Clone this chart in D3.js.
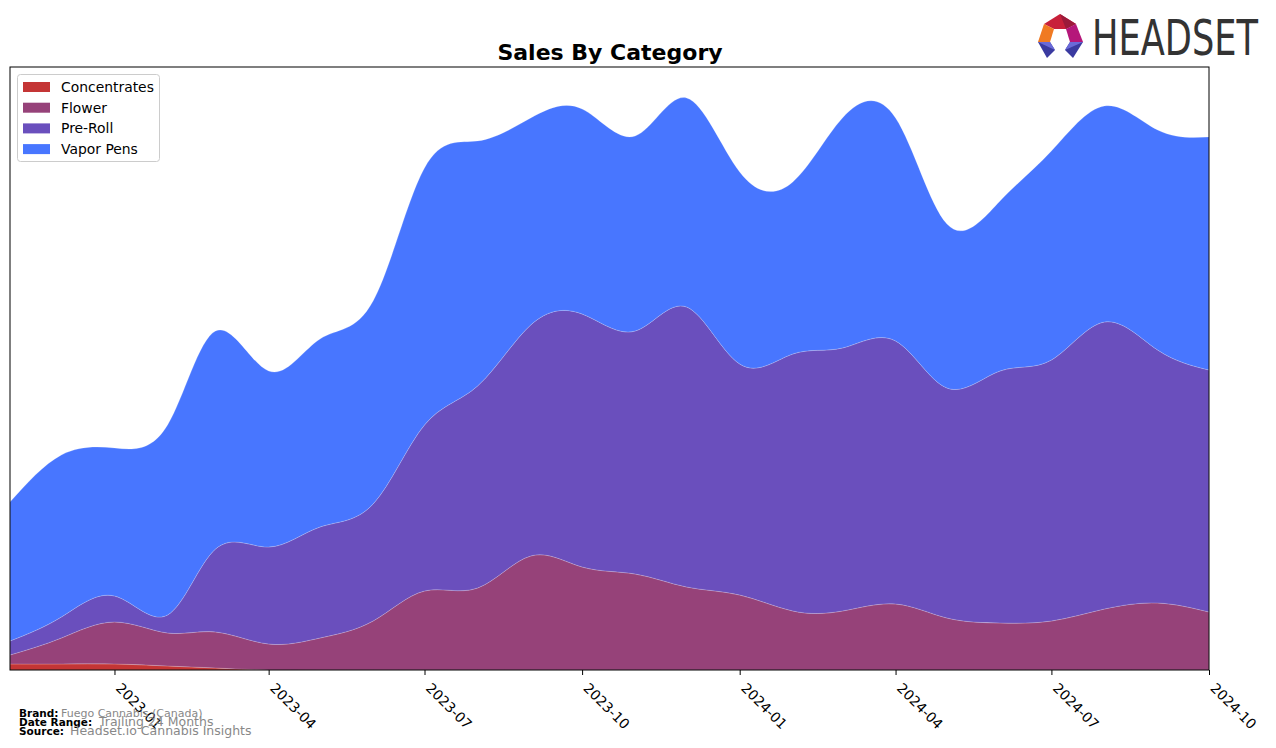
<!DOCTYPE html>
<html>
<head>
<meta charset="utf-8">
<script src="https://cdn.jsdelivr.net/npm/d3@7"></script>
<style>
  html, body { margin: 0; padding: 0; background: #fff; }
  svg { display: block; font-family: "DejaVu Sans", sans-serif; }
</style>
</head>
<body>
<svg id="chart" width="1276" height="748"></svg>
<script>
// ---- data (monthly, values in arbitrary sales units) ----
const months = ["2022-11","2022-12","2023-01","2023-02","2023-03","2023-04","2023-05","2023-06",
  "2023-07","2023-08","2023-09","2023-10","2023-11","2023-12","2024-01","2024-02","2024-03",
  "2024-04","2024-05","2024-06","2024-07","2024-08","2024-09","2024-10"];
const categories = ["Concentrates","Flower","Pre-Roll","Vapor Pens"];
const concentrates = [600,600,600,400,200,0,0,0,0,0,0,0,0,0,0,0,0,0,0,0,0,0,0,0];
const flower = [900,2600,4200,3300,3600,2600,3200,4900,7900,8200,11400,10300,9600,8300,7500,5900,5900,6600,5200,4700,4900,6100,6700,5800];
const preRoll = [1400,2100,2600,1800,8300,9700,11100,11700,16600,20200,23100,25300,24300,28000,23100,25700,26300,26300,23000,25200,26100,28700,25300,24200];
const vaporPens = [13900,16200,14800,19000,21800,17600,18800,20300,25700,24500,20700,20500,19500,20900,19200,17200,23000,22300,16400,17000,20900,21600,22000,23300];
const xTickLabels = ["2023-01","2023-04","2023-07","2023-10","2024-01","2024-04","2024-07","2024-10"];
const yMax = 60300;

const colors = {"Concentrates":"#c43535","Flower":"#964279","Pre-Roll":"#6a4fbd","Vapor Pens":"#4876ff"};

const parse = d3.timeParse("%Y-%m");
const rows = months.map((m,i) => ({
  date: parse(m),
  "Concentrates": concentrates[i],
  "Flower": flower[i],
  "Pre-Roll": preRoll[i],
  "Vapor Pens": vaporPens[i]
}));

const svg = d3.select("#chart");
const L = 10, R = 1209, T = 67, B = 670;

const x = d3.scaleTime().domain([rows[0].date, rows[rows.length-1].date]).range([L, R]);
const y = d3.scaleLinear().domain([0, yMax]).range([B, T]);

const series = d3.stack().keys(categories)(rows);

svg.append("defs").append("clipPath").attr("id","plotclip")
  .append("rect").attr("x",L).attr("y",T).attr("width",R-L).attr("height",B-T);

const area = d3.area()
  .curve(d3.curveNatural)
  .x(d => x(d.data.date))
  .y0(d => y(d[0]))
  .y1(d => y(d[1]));

const g = svg.append("g").attr("clip-path","url(#plotclip)");
g.selectAll("path.layer").data(series).join("path")
  .attr("class","layer")
  .attr("d", area)
  .attr("fill", d => colors[d.key])
  .attr("stroke", "rgba(255,255,255,0.3)")
  .attr("stroke-width", 0.6);

// frame
svg.append("rect").attr("x",L).attr("y",T).attr("width",R-L).attr("height",B-T)
  .attr("fill","none").attr("stroke","#000").attr("stroke-width",1);

// x axis
const tickDates = xTickLabels.map(parse);
const ax = svg.append("g").attr("transform",`translate(0,${B})`)
  .call(d3.axisBottom(x).tickValues(tickDates).tickSize(5).tickFormat(d3.timeFormat("%Y-%m")));
ax.select(".domain").remove();
ax.selectAll(".tick line").attr("stroke","#000");
ax.selectAll(".tick text")
  .attr("font-size", 13.9)
  .attr("fill","#000")
  .attr("font-family","DejaVu Sans, sans-serif")
  .attr("text-anchor","start")
  .attr("x", 0).attr("y", 0).attr("dy", 0)
  .attr("transform","translate(0,19) rotate(45)");

// title
svg.append("text").attr("x", 610).attr("y", 60).attr("text-anchor","middle")
  .attr("font-size", 22).attr("font-weight","bold").attr("fill","#000")
  .text("Sales By Category");

// legend
const lg = svg.append("g");
lg.append("rect").attr("x",17.5).attr("y",74.5).attr("width",142).attr("height",87)
  .attr("rx",3).attr("fill","#fff").attr("fill-opacity",0.8).attr("stroke","#ccc");
categories.forEach((c,i) => {
  const yy = 87 + i*20.7;
  lg.append("rect").attr("x",23).attr("y",yy-5).attr("width",27).attr("height",10).attr("fill",colors[c]);
  lg.append("text").attr("x",61).attr("y",yy+5).attr("font-size",13.9).attr("fill","#000").text(c);
});

// footer
const foot = [
  ["Brand:", "Fuego Cannabis (Canada)", 11, 61],
  ["Date Range:", "Trailing 24 Months", 12.5, 99],
  ["Source:", "Headset.io Cannabis Insights", 12.5, 70]
];
foot.forEach((f,i) => {
  const yy = 717 + i*9;
  svg.append("text").attr("x",19).attr("y",yy).attr("font-size",10.5).attr("font-weight","bold").attr("fill","#000").text(f[0]);
  svg.append("text").attr("x",f[3]).attr("y",yy).attr("font-size",f[2]).attr("fill","#888").text(f[1]);
});

// logo
const logo = svg.append("g");
logo.append("polygon").attr("points","1044,24 1060,14 1076,24 1066,29 1054,29").attr("fill","#c8203a");
logo.append("polygon").attr("points","1060,14 1076,24 1066,29").attr("fill","#9b1a3a");
logo.append("polygon").attr("points","1044,24 1054,29 1050,42 1038,42").attr("fill","#f07a22");
logo.append("polygon").attr("points","1076,24 1066,29 1070,42 1083,42").attr("fill","#b5177a");
logo.append("polygon").attr("points","1038,42 1050,42 1055,50 1047,58").attr("fill","#3a3aa0");
logo.append("polygon").attr("points","1038,42 1050,42 1055,50").attr("fill","#6a6ad8");
logo.append("polygon").attr("points","1083,42 1070,42 1065,50 1073,58").attr("fill","#3a3aa0");
logo.append("polygon").attr("points","1083,42 1070,42 1065,50").attr("fill","#6a6ad8");
logo.append("text").attr("x",1092).attr("y",55).attr("font-size",50)
  .attr("font-family","DejaVu Sans Condensed, DejaVu Sans, sans-serif")
  .attr("fill","#333").attr("textLength",166).attr("lengthAdjust","spacingAndGlyphs")
  .text("HEADSET");
</script>
</body>
</html>
